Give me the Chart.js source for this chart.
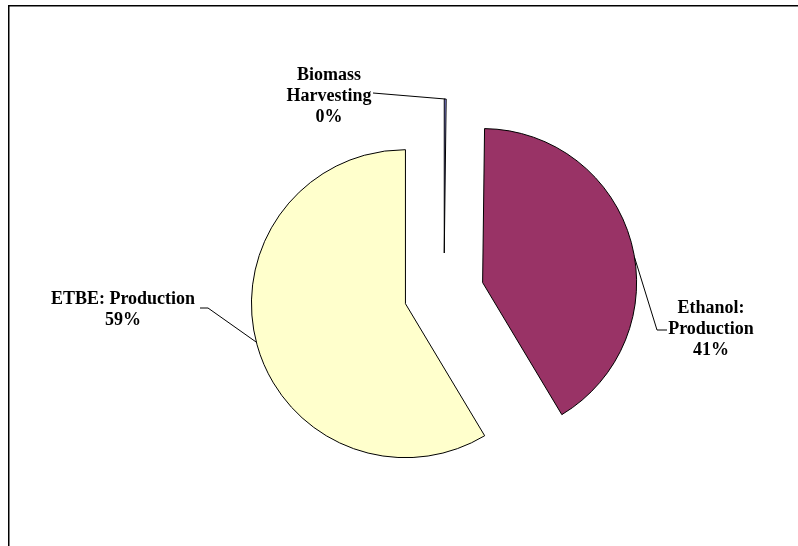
<!DOCTYPE html>
<html>
<head>
<meta charset="utf-8">
<title>Energy share by stage</title>
<script src="https://cdn.jsdelivr.net/npm/chart.js@4.4.0/dist/chart.umd.min.js"></script>
<style>
  html, body { margin: 0; padding: 0; background: #fff; }
  canvas { display: block; }
</style>
</head>
<body>
<canvas id="chart" width="798" height="546"></canvas>
<script>
const stages = ['Biomass Harvesting', 'Ethanol: Production', 'ETBE: Production'];
const shares = [0.2, 41.2, 58.6];
const sliceColors = ['#9999FF', '#993366', '#FFFFCC'];
// how each label is broken over lines (percentage goes on the last line)
const labelLines = [['Biomass', 'Harvesting'], ['Ethanol:', 'Production'], ['ETBE: Production']];

// every slice is pulled out of the pie by this many pixels
const explode = 40;
const total = shares.reduce((a, b) => a + b, 0);

// label block centre and leader bends, relative to the pie centre
const labelSpots = [
  {dx: -115, dy: -197, tilt: 0, bends: [[-71, -200]]},
  {dx: 267, dy: 36, tilt: 5.7, bends: [[213, 37], [223, 37]]},
  {dx: -321, dy: 17, tilt: 1, bends: [[-236, 15], [-244, 15]]}
];

function midAngle(arc) {
  const {startAngle, endAngle} = arc.getProps(['startAngle', 'endAngle'], true);
  return (startAngle + endAngle) / 2;
}

const explodedPie = {
  id: 'explodedPie',
  beforeDraw(chart) {
    const ctx = chart.ctx;
    ctx.save();
    ctx.fillStyle = '#000';
    ctx.fillRect(8, 5, chart.width - 8, 1.5);
    ctx.fillRect(8, 5, 1.5, chart.height - 5);
    ctx.restore();
  },
  // the built-in arc offset also grows the radius, so shift each arc by hand
  beforeDatasetDraw(chart, args) {
    const ctx = chart.ctx;
    args.meta.data.forEach(arc => {
      const mid = midAngle(arc);
      ctx.save();
      ctx.translate(Math.cos(mid) * explode, Math.sin(mid) * explode);
      arc.draw(ctx);
      ctx.restore();
    });
    return false;
  },
  afterDatasetsDraw(chart) {
    const ctx = chart.ctx;
    const meta = chart.getDatasetMeta(0);
    ctx.save();
    ctx.strokeStyle = '#000';
    ctx.lineWidth = 1;
    ctx.fillStyle = '#000';
    ctx.font = 'bold 18px "Liberation Serif", "Times New Roman", serif';
    ctx.textAlign = 'center';
    ctx.textBaseline = 'middle';
    meta.data.forEach((arc, i) => {
      const {x, y, outerRadius} = arc.getProps(['x', 'y', 'outerRadius'], true);
      const mid = midAngle(arc);
      const cx = x + Math.cos(mid) * explode;
      const cy = y + Math.sin(mid) * explode;
      const spot = labelSpots[i];
      const a = mid + spot.tilt * Math.PI / 180;

      ctx.beginPath();
      ctx.moveTo(cx + Math.cos(a) * outerRadius, cy + Math.sin(a) * outerRadius);
      spot.bends.forEach(([bx, by]) => ctx.lineTo(x + bx, y + by));
      ctx.stroke();

      const lines = labelLines[i].concat(Math.round(shares[i] / total * 100) + '%');
      const lx = x + spot.dx;
      const ly = y + spot.dy;
      lines.forEach((t, k) => {
        ctx.fillText(t, lx, ly + (k - (lines.length - 1) / 2) * 21);
      });
    });
    ctx.restore();
  }
};

new Chart(document.getElementById('chart'), {
  type: 'pie',
  data: {
    labels: stages,
    datasets: [{
      data: shares,
      backgroundColor: sliceColors,
      borderColor: '#000',
      borderWidth: 1,
      offset: 0,
      hoverOffset: 0
    }]
  },
  options: {
    responsive: false,
    animation: false,
    devicePixelRatio: 1,
    events: [],
    radius: 154,
    layout: {padding: {left: 90, right: 0, top: 40, bottom: 0}},
    plugins: {
      legend: {display: false},
      tooltip: {enabled: false}
    }
  },
  plugins: [explodedPie]
});
</script>
</body>
</html>
